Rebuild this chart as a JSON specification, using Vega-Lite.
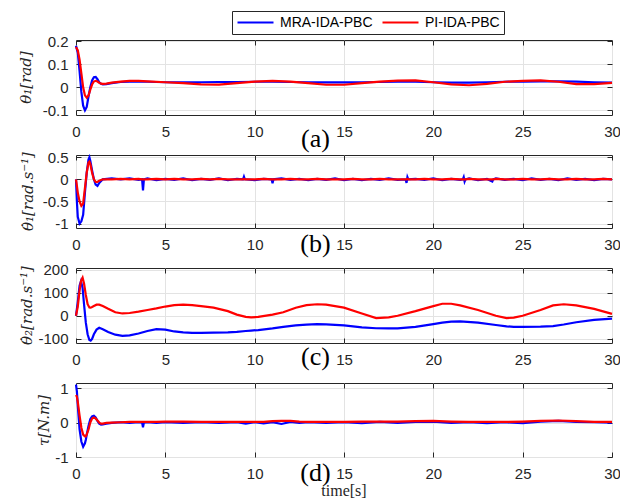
{
  "$schema": "https://vega.github.io/schema/vega-lite/v6.json",
  "autosize": {"type": "pad"},
  "padding": {"left": 17, "top": 10, "right": 5, "bottom": 5},
  "background": "white",
  "config": {
    "view": {"stroke": "#262626", "strokeWidth": 1},
    "axis": {
      "labelFont": "Liberation Sans", "labelFontSize": 15, "labelColor": "#262626",
      "gridColor": "#e3e3e3", "gridWidth": 1, "domain": false,
      "tickColor": "#262626", "tickSize": -5, "tickWidth": 1,
      "titleFont": "Liberation Serif", "titleFontWeight": "normal", "titleColor": "#262626"
    },
    "line": {"strokeWidth": 2.2}
  },
  "datasets": {
    "a": [
      {"t": 0, "MRA-IDA-PBC": 0.18, "PI-IDA-PBC": 0.175},
      {"t": 0.1, "MRA-IDA-PBC": 0.15, "PI-IDA-PBC": 0.16},
      {"t": 0.2, "MRA-IDA-PBC": 0.07, "PI-IDA-PBC": 0.12},
      {"t": 0.3, "MRA-IDA-PBC": -0.02, "PI-IDA-PBC": 0.06},
      {"t": 0.4, "MRA-IDA-PBC": -0.08, "PI-IDA-PBC": 0.0},
      {"t": 0.5, "MRA-IDA-PBC": -0.1, "PI-IDA-PBC": -0.035},
      {"t": 0.6, "MRA-IDA-PBC": -0.085, "PI-IDA-PBC": -0.045},
      {"t": 0.7, "MRA-IDA-PBC": -0.04, "PI-IDA-PBC": -0.035},
      {"t": 0.8, "MRA-IDA-PBC": 0.0, "PI-IDA-PBC": -0.01},
      {"t": 0.9, "MRA-IDA-PBC": 0.03, "PI-IDA-PBC": 0.012},
      {"t": 1.0, "MRA-IDA-PBC": 0.044, "PI-IDA-PBC": 0.025},
      {"t": 1.1, "MRA-IDA-PBC": 0.045, "PI-IDA-PBC": 0.028},
      {"t": 1.2, "MRA-IDA-PBC": 0.035, "PI-IDA-PBC": 0.025},
      {"t": 1.3, "MRA-IDA-PBC": 0.022, "PI-IDA-PBC": 0.02},
      {"t": 1.4, "MRA-IDA-PBC": 0.015, "PI-IDA-PBC": 0.016},
      {"t": 1.5, "MRA-IDA-PBC": 0.013, "PI-IDA-PBC": 0.015},
      {"t": 1.7, "MRA-IDA-PBC": 0.014, "PI-IDA-PBC": 0.016},
      {"t": 2.0, "MRA-IDA-PBC": 0.018, "PI-IDA-PBC": 0.02},
      {"t": 2.5, "MRA-IDA-PBC": 0.023, "PI-IDA-PBC": 0.025},
      {"t": 3, "MRA-IDA-PBC": 0.025, "PI-IDA-PBC": 0.028},
      {"t": 3.5, "MRA-IDA-PBC": 0.025, "PI-IDA-PBC": 0.028},
      {"t": 4, "MRA-IDA-PBC": 0.024, "PI-IDA-PBC": 0.026},
      {"t": 5, "MRA-IDA-PBC": 0.022, "PI-IDA-PBC": 0.022},
      {"t": 6, "MRA-IDA-PBC": 0.021, "PI-IDA-PBC": 0.018},
      {"t": 7, "MRA-IDA-PBC": 0.022, "PI-IDA-PBC": 0.013},
      {"t": 8, "MRA-IDA-PBC": 0.023, "PI-IDA-PBC": 0.012},
      {"t": 9, "MRA-IDA-PBC": 0.023, "PI-IDA-PBC": 0.018},
      {"t": 10, "MRA-IDA-PBC": 0.024, "PI-IDA-PBC": 0.025},
      {"t": 11, "MRA-IDA-PBC": 0.024, "PI-IDA-PBC": 0.028},
      {"t": 12, "MRA-IDA-PBC": 0.023, "PI-IDA-PBC": 0.025},
      {"t": 13, "MRA-IDA-PBC": 0.022, "PI-IDA-PBC": 0.018},
      {"t": 14, "MRA-IDA-PBC": 0.021, "PI-IDA-PBC": 0.011},
      {"t": 15, "MRA-IDA-PBC": 0.021, "PI-IDA-PBC": 0.011},
      {"t": 16, "MRA-IDA-PBC": 0.022, "PI-IDA-PBC": 0.018},
      {"t": 17, "MRA-IDA-PBC": 0.023, "PI-IDA-PBC": 0.025},
      {"t": 18, "MRA-IDA-PBC": 0.024, "PI-IDA-PBC": 0.029},
      {"t": 19, "MRA-IDA-PBC": 0.024, "PI-IDA-PBC": 0.03},
      {"t": 20, "MRA-IDA-PBC": 0.022, "PI-IDA-PBC": 0.022},
      {"t": 21, "MRA-IDA-PBC": 0.02, "PI-IDA-PBC": 0.013},
      {"t": 22, "MRA-IDA-PBC": 0.02, "PI-IDA-PBC": 0.009},
      {"t": 23, "MRA-IDA-PBC": 0.022, "PI-IDA-PBC": 0.015},
      {"t": 24, "MRA-IDA-PBC": 0.024, "PI-IDA-PBC": 0.024},
      {"t": 25, "MRA-IDA-PBC": 0.025, "PI-IDA-PBC": 0.028},
      {"t": 26, "MRA-IDA-PBC": 0.026, "PI-IDA-PBC": 0.03},
      {"t": 27, "MRA-IDA-PBC": 0.026, "PI-IDA-PBC": 0.024},
      {"t": 28, "MRA-IDA-PBC": 0.025, "PI-IDA-PBC": 0.014},
      {"t": 29, "MRA-IDA-PBC": 0.022, "PI-IDA-PBC": 0.014},
      {"t": 30, "MRA-IDA-PBC": 0.02, "PI-IDA-PBC": 0.019}
    ],
    "b": [
      {"t": 0, "MRA-IDA-PBC": 0, "PI-IDA-PBC": 0},
      {"t": 0.05, "MRA-IDA-PBC": -0.5, "PI-IDA-PBC": -0.15},
      {"t": 0.1, "MRA-IDA-PBC": -0.85, "PI-IDA-PBC": -0.3},
      {"t": 0.2, "MRA-IDA-PBC": -1.0, "PI-IDA-PBC": -0.5},
      {"t": 0.3, "MRA-IDA-PBC": -0.95, "PI-IDA-PBC": -0.6},
      {"t": 0.4, "MRA-IDA-PBC": -0.8, "PI-IDA-PBC": -0.55},
      {"t": 0.5, "MRA-IDA-PBC": -0.3, "PI-IDA-PBC": -0.2},
      {"t": 0.6, "MRA-IDA-PBC": 0.15, "PI-IDA-PBC": 0.15},
      {"t": 0.7, "MRA-IDA-PBC": 0.45, "PI-IDA-PBC": 0.38},
      {"t": 0.75, "MRA-IDA-PBC": 0.5, "PI-IDA-PBC": 0.4},
      {"t": 0.8, "MRA-IDA-PBC": 0.42, "PI-IDA-PBC": 0.35},
      {"t": 0.9, "MRA-IDA-PBC": 0.2, "PI-IDA-PBC": 0.15},
      {"t": 1.0, "MRA-IDA-PBC": 0.0, "PI-IDA-PBC": 0.0},
      {"t": 1.1, "MRA-IDA-PBC": -0.12, "PI-IDA-PBC": -0.06},
      {"t": 1.2, "MRA-IDA-PBC": -0.15, "PI-IDA-PBC": -0.06},
      {"t": 1.3, "MRA-IDA-PBC": -0.08, "PI-IDA-PBC": -0.03},
      {"t": 1.5, "MRA-IDA-PBC": 0.0, "PI-IDA-PBC": 0.0},
      {"t": 2.0, "MRA-IDA-PBC": 0.02, "PI-IDA-PBC": 0.0},
      {"t": 2.5, "MRA-IDA-PBC": 0.0, "PI-IDA-PBC": 0.01},
      {"t": 3.0, "MRA-IDA-PBC": 0.02, "PI-IDA-PBC": 0.0},
      {"t": 3.5, "MRA-IDA-PBC": -0.01, "PI-IDA-PBC": 0.01},
      {"t": 3.7, "MRA-IDA-PBC": 0.0, "PI-IDA-PBC": 0.0},
      {"t": 3.75, "MRA-IDA-PBC": -0.25, "PI-IDA-PBC": 0.0},
      {"t": 3.8, "MRA-IDA-PBC": 0.0, "PI-IDA-PBC": 0.0},
      {"t": 4.0, "MRA-IDA-PBC": 0.02, "PI-IDA-PBC": 0.0},
      {"t": 4.5, "MRA-IDA-PBC": -0.02, "PI-IDA-PBC": 0.01},
      {"t": 5.0, "MRA-IDA-PBC": 0.01, "PI-IDA-PBC": 0.0},
      {"t": 5.5, "MRA-IDA-PBC": -0.01, "PI-IDA-PBC": 0.01},
      {"t": 6.0, "MRA-IDA-PBC": 0.02, "PI-IDA-PBC": 0.0},
      {"t": 6.5, "MRA-IDA-PBC": -0.02, "PI-IDA-PBC": 0.0},
      {"t": 7.0, "MRA-IDA-PBC": 0.01, "PI-IDA-PBC": 0.01},
      {"t": 7.5, "MRA-IDA-PBC": -0.01, "PI-IDA-PBC": 0.0},
      {"t": 8.0, "MRA-IDA-PBC": 0.02, "PI-IDA-PBC": 0.01},
      {"t": 8.5, "MRA-IDA-PBC": -0.02, "PI-IDA-PBC": 0.0},
      {"t": 9.0, "MRA-IDA-PBC": 0.01, "PI-IDA-PBC": 0.0},
      {"t": 9.35, "MRA-IDA-PBC": 0.0, "PI-IDA-PBC": 0.0},
      {"t": 9.4, "MRA-IDA-PBC": 0.06, "PI-IDA-PBC": 0.01},
      {"t": 9.45, "MRA-IDA-PBC": 0.0, "PI-IDA-PBC": 0.0},
      {"t": 10.0, "MRA-IDA-PBC": -0.02, "PI-IDA-PBC": 0.0},
      {"t": 10.5, "MRA-IDA-PBC": 0.01, "PI-IDA-PBC": 0.01},
      {"t": 10.95, "MRA-IDA-PBC": 0.0, "PI-IDA-PBC": 0.0},
      {"t": 11.0, "MRA-IDA-PBC": -0.09, "PI-IDA-PBC": 0.0},
      {"t": 11.05, "MRA-IDA-PBC": 0.0, "PI-IDA-PBC": 0.0},
      {"t": 11.5, "MRA-IDA-PBC": 0.02, "PI-IDA-PBC": 0.0},
      {"t": 12.0, "MRA-IDA-PBC": -0.01, "PI-IDA-PBC": 0.01},
      {"t": 12.5, "MRA-IDA-PBC": 0.01, "PI-IDA-PBC": 0.0},
      {"t": 13.0, "MRA-IDA-PBC": -0.02, "PI-IDA-PBC": 0.0},
      {"t": 13.5, "MRA-IDA-PBC": 0.01, "PI-IDA-PBC": 0.01},
      {"t": 14.0, "MRA-IDA-PBC": -0.01, "PI-IDA-PBC": 0.0},
      {"t": 14.5, "MRA-IDA-PBC": 0.02, "PI-IDA-PBC": 0.0},
      {"t": 15.0, "MRA-IDA-PBC": -0.02, "PI-IDA-PBC": 0.0},
      {"t": 15.5, "MRA-IDA-PBC": 0.01, "PI-IDA-PBC": 0.01},
      {"t": 16.0, "MRA-IDA-PBC": -0.02, "PI-IDA-PBC": 0.0},
      {"t": 16.5, "MRA-IDA-PBC": 0.01, "PI-IDA-PBC": 0.0},
      {"t": 17.0, "MRA-IDA-PBC": -0.01, "PI-IDA-PBC": 0.01},
      {"t": 17.5, "MRA-IDA-PBC": 0.02, "PI-IDA-PBC": 0.0},
      {"t": 18.0, "MRA-IDA-PBC": -0.01, "PI-IDA-PBC": 0.0},
      {"t": 18.45, "MRA-IDA-PBC": 0.0, "PI-IDA-PBC": 0.0},
      {"t": 18.5, "MRA-IDA-PBC": -0.08, "PI-IDA-PBC": 0.0},
      {"t": 18.55, "MRA-IDA-PBC": 0.05, "PI-IDA-PBC": 0.01},
      {"t": 18.6, "MRA-IDA-PBC": 0.0, "PI-IDA-PBC": 0.0},
      {"t": 19.0, "MRA-IDA-PBC": 0.01, "PI-IDA-PBC": 0.0},
      {"t": 19.5, "MRA-IDA-PBC": -0.01, "PI-IDA-PBC": 0.01},
      {"t": 20.0, "MRA-IDA-PBC": 0.02, "PI-IDA-PBC": 0.0},
      {"t": 20.5, "MRA-IDA-PBC": -0.02, "PI-IDA-PBC": 0.0},
      {"t": 21.0, "MRA-IDA-PBC": 0.01, "PI-IDA-PBC": 0.01},
      {"t": 21.5, "MRA-IDA-PBC": -0.01, "PI-IDA-PBC": 0.0},
      {"t": 21.65, "MRA-IDA-PBC": 0.0, "PI-IDA-PBC": 0.0},
      {"t": 21.7, "MRA-IDA-PBC": 0.05, "PI-IDA-PBC": 0.0},
      {"t": 21.75, "MRA-IDA-PBC": -0.05, "PI-IDA-PBC": 0.0},
      {"t": 21.8, "MRA-IDA-PBC": 0.0, "PI-IDA-PBC": 0.0},
      {"t": 22.0, "MRA-IDA-PBC": 0.02, "PI-IDA-PBC": 0.01},
      {"t": 22.5, "MRA-IDA-PBC": -0.02, "PI-IDA-PBC": 0.0},
      {"t": 23.0, "MRA-IDA-PBC": 0.01, "PI-IDA-PBC": 0.0},
      {"t": 23.3, "MRA-IDA-PBC": -0.05, "PI-IDA-PBC": 0.0},
      {"t": 23.35, "MRA-IDA-PBC": 0.0, "PI-IDA-PBC": 0.0},
      {"t": 23.5, "MRA-IDA-PBC": 0.02, "PI-IDA-PBC": 0.01},
      {"t": 24.0, "MRA-IDA-PBC": -0.01, "PI-IDA-PBC": 0.0},
      {"t": 24.5, "MRA-IDA-PBC": 0.01, "PI-IDA-PBC": 0.0},
      {"t": 25.0, "MRA-IDA-PBC": -0.02, "PI-IDA-PBC": 0.01},
      {"t": 25.5, "MRA-IDA-PBC": 0.02, "PI-IDA-PBC": 0.0},
      {"t": 26.0, "MRA-IDA-PBC": -0.01, "PI-IDA-PBC": 0.0},
      {"t": 26.5, "MRA-IDA-PBC": 0.01, "PI-IDA-PBC": 0.01},
      {"t": 27.0, "MRA-IDA-PBC": -0.02, "PI-IDA-PBC": 0.0},
      {"t": 27.5, "MRA-IDA-PBC": 0.02, "PI-IDA-PBC": 0.0},
      {"t": 28.0, "MRA-IDA-PBC": -0.01, "PI-IDA-PBC": 0.01},
      {"t": 28.5, "MRA-IDA-PBC": 0.01, "PI-IDA-PBC": 0.0},
      {"t": 29.0, "MRA-IDA-PBC": -0.02, "PI-IDA-PBC": 0.0},
      {"t": 29.5, "MRA-IDA-PBC": 0.01, "PI-IDA-PBC": 0.01},
      {"t": 30.0, "MRA-IDA-PBC": 0.0, "PI-IDA-PBC": 0.0}
    ],
    "c": [
      {"t": 0, "MRA-IDA-PBC": 0, "PI-IDA-PBC": 0},
      {"t": 0.1, "MRA-IDA-PBC": 60, "PI-IDA-PBC": 40},
      {"t": 0.2, "MRA-IDA-PBC": 130, "PI-IDA-PBC": 110},
      {"t": 0.28, "MRA-IDA-PBC": 150, "PI-IDA-PBC": 150},
      {"t": 0.37, "MRA-IDA-PBC": 120, "PI-IDA-PBC": 165},
      {"t": 0.45, "MRA-IDA-PBC": 50, "PI-IDA-PBC": 140},
      {"t": 0.55, "MRA-IDA-PBC": -30, "PI-IDA-PBC": 90},
      {"t": 0.65, "MRA-IDA-PBC": -80, "PI-IDA-PBC": 50},
      {"t": 0.75, "MRA-IDA-PBC": -105, "PI-IDA-PBC": 36},
      {"t": 0.82, "MRA-IDA-PBC": -108, "PI-IDA-PBC": 35},
      {"t": 0.9, "MRA-IDA-PBC": -100, "PI-IDA-PBC": 38},
      {"t": 1.0, "MRA-IDA-PBC": -80, "PI-IDA-PBC": 42},
      {"t": 1.15, "MRA-IDA-PBC": -60, "PI-IDA-PBC": 48},
      {"t": 1.3, "MRA-IDA-PBC": -52, "PI-IDA-PBC": 48},
      {"t": 1.5, "MRA-IDA-PBC": -58, "PI-IDA-PBC": 42},
      {"t": 1.8, "MRA-IDA-PBC": -70, "PI-IDA-PBC": 30},
      {"t": 2.2, "MRA-IDA-PBC": -82, "PI-IDA-PBC": 15},
      {"t": 2.6, "MRA-IDA-PBC": -87, "PI-IDA-PBC": 10},
      {"t": 3.0, "MRA-IDA-PBC": -85, "PI-IDA-PBC": 12},
      {"t": 3.5, "MRA-IDA-PBC": -77, "PI-IDA-PBC": 18},
      {"t": 4.0, "MRA-IDA-PBC": -66, "PI-IDA-PBC": 25},
      {"t": 4.5, "MRA-IDA-PBC": -58, "PI-IDA-PBC": 32},
      {"t": 5.0, "MRA-IDA-PBC": -60, "PI-IDA-PBC": 40},
      {"t": 5.5, "MRA-IDA-PBC": -68, "PI-IDA-PBC": 46},
      {"t": 6.0, "MRA-IDA-PBC": -72, "PI-IDA-PBC": 48},
      {"t": 6.5, "MRA-IDA-PBC": -74, "PI-IDA-PBC": 46},
      {"t": 7.0, "MRA-IDA-PBC": -74, "PI-IDA-PBC": 42},
      {"t": 7.7, "MRA-IDA-PBC": -73, "PI-IDA-PBC": 35},
      {"t": 8.5, "MRA-IDA-PBC": -72, "PI-IDA-PBC": 20},
      {"t": 9.0, "MRA-IDA-PBC": -70, "PI-IDA-PBC": 5},
      {"t": 9.5, "MRA-IDA-PBC": -66, "PI-IDA-PBC": -5},
      {"t": 9.8, "MRA-IDA-PBC": -64, "PI-IDA-PBC": -7},
      {"t": 10.2, "MRA-IDA-PBC": -62, "PI-IDA-PBC": -5},
      {"t": 11.0, "MRA-IDA-PBC": -55, "PI-IDA-PBC": 5},
      {"t": 11.6, "MRA-IDA-PBC": -48, "PI-IDA-PBC": 15},
      {"t": 12.3, "MRA-IDA-PBC": -42, "PI-IDA-PBC": 35},
      {"t": 12.9, "MRA-IDA-PBC": -38, "PI-IDA-PBC": 46},
      {"t": 13.5, "MRA-IDA-PBC": -36, "PI-IDA-PBC": 50},
      {"t": 14.0, "MRA-IDA-PBC": -37, "PI-IDA-PBC": 48},
      {"t": 15.0, "MRA-IDA-PBC": -42, "PI-IDA-PBC": 35},
      {"t": 16.0, "MRA-IDA-PBC": -50, "PI-IDA-PBC": 10},
      {"t": 16.8, "MRA-IDA-PBC": -54, "PI-IDA-PBC": -10},
      {"t": 17.5, "MRA-IDA-PBC": -55, "PI-IDA-PBC": -7},
      {"t": 18.0, "MRA-IDA-PBC": -55, "PI-IDA-PBC": 0},
      {"t": 19.0, "MRA-IDA-PBC": -48, "PI-IDA-PBC": 20},
      {"t": 20.0, "MRA-IDA-PBC": -36, "PI-IDA-PBC": 42},
      {"t": 20.5, "MRA-IDA-PBC": -30, "PI-IDA-PBC": 52},
      {"t": 21.0, "MRA-IDA-PBC": -25, "PI-IDA-PBC": 52},
      {"t": 21.5, "MRA-IDA-PBC": -24, "PI-IDA-PBC": 45},
      {"t": 22.5, "MRA-IDA-PBC": -30, "PI-IDA-PBC": 25},
      {"t": 23.5, "MRA-IDA-PBC": -40, "PI-IDA-PBC": 0},
      {"t": 24.1, "MRA-IDA-PBC": -46, "PI-IDA-PBC": -10},
      {"t": 24.5, "MRA-IDA-PBC": -48, "PI-IDA-PBC": -8},
      {"t": 25.0, "MRA-IDA-PBC": -48, "PI-IDA-PBC": 0},
      {"t": 26.0, "MRA-IDA-PBC": -47, "PI-IDA-PBC": 25},
      {"t": 26.7, "MRA-IDA-PBC": -45, "PI-IDA-PBC": 45},
      {"t": 27.3, "MRA-IDA-PBC": -38, "PI-IDA-PBC": 50},
      {"t": 28.0, "MRA-IDA-PBC": -28, "PI-IDA-PBC": 45},
      {"t": 29.0, "MRA-IDA-PBC": -18, "PI-IDA-PBC": 30},
      {"t": 30.0, "MRA-IDA-PBC": -12, "PI-IDA-PBC": 8}
    ],
    "d": [
      {"t": 0, "MRA-IDA-PBC": 1.1, "PI-IDA-PBC": 0.8},
      {"t": 0.05, "MRA-IDA-PBC": 0.9, "PI-IDA-PBC": 0.75},
      {"t": 0.1, "MRA-IDA-PBC": 0.5, "PI-IDA-PBC": 0.6},
      {"t": 0.2, "MRA-IDA-PBC": -0.2, "PI-IDA-PBC": 0.2},
      {"t": 0.3, "MRA-IDA-PBC": -0.55, "PI-IDA-PBC": -0.15},
      {"t": 0.4, "MRA-IDA-PBC": -0.7, "PI-IDA-PBC": -0.35},
      {"t": 0.5, "MRA-IDA-PBC": -0.6, "PI-IDA-PBC": -0.4},
      {"t": 0.55, "MRA-IDA-PBC": -0.5, "PI-IDA-PBC": -0.4},
      {"t": 0.6, "MRA-IDA-PBC": -0.35, "PI-IDA-PBC": -0.35},
      {"t": 0.7, "MRA-IDA-PBC": -0.1, "PI-IDA-PBC": -0.2},
      {"t": 0.8, "MRA-IDA-PBC": 0.1, "PI-IDA-PBC": 0.0},
      {"t": 0.9, "MRA-IDA-PBC": 0.18, "PI-IDA-PBC": 0.12},
      {"t": 1.0, "MRA-IDA-PBC": 0.2, "PI-IDA-PBC": 0.15},
      {"t": 1.1, "MRA-IDA-PBC": 0.15, "PI-IDA-PBC": 0.12},
      {"t": 1.2, "MRA-IDA-PBC": 0.05, "PI-IDA-PBC": 0.06},
      {"t": 1.3, "MRA-IDA-PBC": -0.03, "PI-IDA-PBC": 0.0},
      {"t": 1.4, "MRA-IDA-PBC": -0.06, "PI-IDA-PBC": -0.03},
      {"t": 1.5, "MRA-IDA-PBC": -0.05, "PI-IDA-PBC": -0.03},
      {"t": 1.7, "MRA-IDA-PBC": -0.03, "PI-IDA-PBC": -0.01},
      {"t": 2.0, "MRA-IDA-PBC": -0.01, "PI-IDA-PBC": 0.0},
      {"t": 2.5, "MRA-IDA-PBC": 0.01, "PI-IDA-PBC": 0.01},
      {"t": 3.0, "MRA-IDA-PBC": -0.01, "PI-IDA-PBC": 0.02},
      {"t": 3.5, "MRA-IDA-PBC": 0.01, "PI-IDA-PBC": 0.02},
      {"t": 3.7, "MRA-IDA-PBC": 0.0, "PI-IDA-PBC": 0.02},
      {"t": 3.75, "MRA-IDA-PBC": -0.14, "PI-IDA-PBC": 0.02},
      {"t": 3.8, "MRA-IDA-PBC": 0.0, "PI-IDA-PBC": 0.02},
      {"t": 4.0, "MRA-IDA-PBC": 0.01, "PI-IDA-PBC": 0.02},
      {"t": 4.5, "MRA-IDA-PBC": -0.01, "PI-IDA-PBC": 0.02},
      {"t": 5.0, "MRA-IDA-PBC": 0.01, "PI-IDA-PBC": 0.03},
      {"t": 6.0, "MRA-IDA-PBC": -0.01, "PI-IDA-PBC": 0.03},
      {"t": 7.0, "MRA-IDA-PBC": 0.01, "PI-IDA-PBC": 0.02},
      {"t": 8.0, "MRA-IDA-PBC": -0.01, "PI-IDA-PBC": 0.02},
      {"t": 9.0, "MRA-IDA-PBC": 0.01, "PI-IDA-PBC": 0.02},
      {"t": 9.5, "MRA-IDA-PBC": -0.03, "PI-IDA-PBC": 0.02},
      {"t": 10.0, "MRA-IDA-PBC": 0.01, "PI-IDA-PBC": 0.02},
      {"t": 10.5, "MRA-IDA-PBC": -0.02, "PI-IDA-PBC": 0.02},
      {"t": 11.0, "MRA-IDA-PBC": 0.01, "PI-IDA-PBC": 0.04},
      {"t": 11.5, "MRA-IDA-PBC": -0.04, "PI-IDA-PBC": 0.05},
      {"t": 12.0, "MRA-IDA-PBC": 0.02, "PI-IDA-PBC": 0.05},
      {"t": 12.5, "MRA-IDA-PBC": -0.01, "PI-IDA-PBC": 0.03},
      {"t": 13.0, "MRA-IDA-PBC": 0.01, "PI-IDA-PBC": 0.02},
      {"t": 14.0, "MRA-IDA-PBC": -0.01, "PI-IDA-PBC": 0.02},
      {"t": 15.0, "MRA-IDA-PBC": 0.01, "PI-IDA-PBC": 0.02},
      {"t": 16.0, "MRA-IDA-PBC": -0.02, "PI-IDA-PBC": 0.03},
      {"t": 17.0, "MRA-IDA-PBC": 0.02, "PI-IDA-PBC": 0.03},
      {"t": 18.0, "MRA-IDA-PBC": -0.01, "PI-IDA-PBC": 0.03},
      {"t": 19.0, "MRA-IDA-PBC": 0.02, "PI-IDA-PBC": 0.04},
      {"t": 20.0, "MRA-IDA-PBC": 0.03, "PI-IDA-PBC": 0.05},
      {"t": 21.0, "MRA-IDA-PBC": -0.01, "PI-IDA-PBC": 0.03},
      {"t": 22.0, "MRA-IDA-PBC": 0.01, "PI-IDA-PBC": 0.02},
      {"t": 23.0, "MRA-IDA-PBC": -0.02, "PI-IDA-PBC": 0.02},
      {"t": 24.0, "MRA-IDA-PBC": 0.01, "PI-IDA-PBC": 0.02},
      {"t": 25.0, "MRA-IDA-PBC": -0.02, "PI-IDA-PBC": 0.03},
      {"t": 26.0, "MRA-IDA-PBC": 0.03, "PI-IDA-PBC": 0.05},
      {"t": 27.0, "MRA-IDA-PBC": 0.05, "PI-IDA-PBC": 0.06},
      {"t": 28.0, "MRA-IDA-PBC": 0.02, "PI-IDA-PBC": 0.04},
      {"t": 29.0, "MRA-IDA-PBC": 0.01, "PI-IDA-PBC": 0.02},
      {"t": 30.0, "MRA-IDA-PBC": 0.0, "PI-IDA-PBC": 0.02}
    ]
  },
  "spacing": 40,
  "bounds": "flush",
  "resolve": {"scale": {"color": "independent"}, "legend": {"color": "independent"}},
  "vconcat": [
    {
      "width": 536, "height": 75,
      "data": {"name": "a"},
      "transform": [{"fold": ["MRA-IDA-PBC", "PI-IDA-PBC"], "as": ["s", "v"]}],
      "layer": [
        {
          "mark": {"type": "line"},
          "encoding": {
            "x": {"field": "t", "type": "quantitative", "scale": {"domain": [0, 30], "nice": false},
              "axis": {"values": [0, 5, 10, 15, 20, 25, 30], "labelPadding": 14, "labelFlush": false,
                "title": "(a)", "titleFontSize": 26, "titleColor": "#000", "titleX": 239, "titleY": 31, "titleAlign": "center", "titleBaseline": "alphabetic"}},
            "y": {"field": "v", "type": "quantitative", "scale": {"domain": [-0.12, 0.205], "nice": false, "zero": false},
              "axis": {"values": [-0.1, 0, 0.1, 0.2], "labelExpr": "'' + datum.value", "labelPadding": 13, "title": "θ₁[rad]", "titleFont": "DejaVu Serif", "titleFontSize": 15, "titleFontStyle": "italic", "titleX": -51, "titleY": 37, "titleBaseline": "middle", "titleAlign": "center"}},
            "color": {"field": "s", "type": "nominal",
              "scale": {"domain": ["MRA-IDA-PBC", "PI-IDA-PBC"], "range": ["#0000ff", "#ff0000"]},
              "legend": {"orient": "none", "legendX": 156, "legendY": -29, "direction": "horizontal", "title": null,
                "strokeColor": "#262626", "fillColor": "white", "padding": 4, "symbolType": "stroke", "symbolSize": 1296,
                "symbolStrokeWidth": 2, "labelFont": "Liberation Sans", "labelFontSize": 14, "labelColor": "#000",
                "columnPadding": 8, "labelOffset": 5, "clipHeight": 15}}
          }
        },
        {
          "mark": {"type": "line", "strokeOpacity": 0},
          "encoding": {
            "x": {"field": "t", "type": "quantitative", "axis": {"orient": "top", "values": [0, 5, 10, 15, 20, 25, 30], "labels": false, "grid": false, "title": null}},
            "y": {"field": "v", "type": "quantitative", "axis": {"orient": "right", "values": [-0.1, 0, 0.1, 0.2], "labels": false, "grid": false, "title": null}}
          }
        }
      ],
      "resolve": {"axis": {"x": "independent", "y": "independent"}}
    },
    {
      "width": 536, "height": 73,
      "data": {"name": "b"},
      "transform": [{"fold": ["MRA-IDA-PBC", "PI-IDA-PBC"], "as": ["s", "v"]}],
      "layer": [
        {
          "mark": {"type": "line"},
          "encoding": {
            "x": {"field": "t", "type": "quantitative", "scale": {"domain": [0, 30], "nice": false},
              "axis": {"values": [0, 5, 10, 15, 20, 25, 30], "labelPadding": 14, "labelFlush": false,
                "title": "(b)", "titleFontSize": 26, "titleColor": "#000", "titleX": 239, "titleY": 23, "titleAlign": "center", "titleBaseline": "alphabetic"}},
            "y": {"field": "v", "type": "quantitative", "scale": {"domain": [-1.1, 0.55], "nice": false, "zero": false},
              "axis": {"values": [-1, -0.5, 0, 0.5], "labelExpr": "'' + datum.value", "labelPadding": 13, "title": "θ̇₁[rad.s⁻¹]", "titleFont": "DejaVu Serif", "titleFontSize": 15, "titleFontStyle": "italic", "titleX": -49, "titleY": 36, "titleBaseline": "middle", "titleAlign": "center"}},
            "color": {"field": "s", "type": "nominal",
              "scale": {"domain": ["MRA-IDA-PBC", "PI-IDA-PBC"], "range": ["#0000ff", "#ff0000"]}, "legend": null}
          }
        },
        {
          "mark": {"type": "line", "strokeOpacity": 0},
          "encoding": {
            "x": {"field": "t", "type": "quantitative", "axis": {"orient": "top", "values": [0, 5, 10, 15, 20, 25, 30], "labels": false, "grid": false, "title": null}},
            "y": {"field": "v", "type": "quantitative", "axis": {"orient": "right", "values": [-1, -0.5, 0, 0.5], "labels": false, "grid": false, "title": null}}
          }
        }
      ],
      "resolve": {"axis": {"x": "independent", "y": "independent"}}
    },
    {
      "width": 536, "height": 75,
      "data": {"name": "c"},
      "transform": [{"fold": ["MRA-IDA-PBC", "PI-IDA-PBC"], "as": ["s", "v"]}],
      "layer": [
        {
          "mark": {"type": "line"},
          "encoding": {
            "x": {"field": "t", "type": "quantitative", "scale": {"domain": [0, 30], "nice": false},
              "axis": {"values": [0, 5, 10, 15, 20, 25, 30], "labelPadding": 14, "labelFlush": false,
                "title": "(c)", "titleFontSize": 26, "titleColor": "#000", "titleX": 239, "titleY": 21, "titleAlign": "center", "titleBaseline": "alphabetic"}},
            "y": {"field": "v", "type": "quantitative", "scale": {"domain": [-118, 207], "nice": false, "zero": false},
              "axis": {"values": [-100, 0, 100, 200], "labelExpr": "'' + datum.value", "labelPadding": 13, "title": "θ̇₂[rad.s⁻¹]", "titleFont": "DejaVu Serif", "titleFontSize": 15, "titleFontStyle": "italic", "titleX": -50, "titleY": 37, "titleBaseline": "middle", "titleAlign": "center"}},
            "color": {"field": "s", "type": "nominal",
              "scale": {"domain": ["MRA-IDA-PBC", "PI-IDA-PBC"], "range": ["#0000ff", "#ff0000"]}, "legend": null}
          }
        },
        {
          "mark": {"type": "line", "strokeOpacity": 0},
          "encoding": {
            "x": {"field": "t", "type": "quantitative", "axis": {"orient": "top", "values": [0, 5, 10, 15, 20, 25, 30], "labels": false, "grid": false, "title": null}},
            "y": {"field": "v", "type": "quantitative", "axis": {"orient": "right", "values": [-100, 0, 100, 200], "labels": false, "grid": false, "title": null}}
          }
        }
      ],
      "resolve": {"axis": {"x": "independent", "y": "independent"}}
    },
    {
      "width": 536, "height": 74,
      "data": {"name": "d"},
      "transform": [{"fold": ["MRA-IDA-PBC", "PI-IDA-PBC"], "as": ["s", "v"]}],
      "title": {"text": "time[s]", "orient": "bottom", "anchor": "middle", "font": "Liberation Serif", "fontSize": 16, "fontWeight": "normal", "color": "#262626", "offset": -2},
      "layer": [
        {
          "mark": {"type": "line"},
          "encoding": {
            "x": {"field": "t", "type": "quantitative", "scale": {"domain": [0, 30], "nice": false},
              "axis": {"values": [0, 5, 10, 15, 20, 25, 30], "labelPadding": 14, "labelFlush": false,
                "title": "(d)", "titleFontSize": 26, "titleColor": "#000", "titleX": 239, "titleY": 23, "titleAlign": "center", "titleBaseline": "alphabetic"}},
            "y": {"field": "v", "type": "quantitative", "scale": {"domain": [-1, 1.15], "nice": false, "zero": false},
              "axis": {"values": [-1, 0, 1], "labelExpr": "'' + datum.value", "labelPadding": 13, "title": "τ[N.m]", "titleFont": "DejaVu Serif", "titleFontSize": 15, "titleFontStyle": "italic", "titleX": -33, "titleY": 37, "titleBaseline": "middle", "titleAlign": "center"}},
            "color": {"field": "s", "type": "nominal",
              "scale": {"domain": ["MRA-IDA-PBC", "PI-IDA-PBC"], "range": ["#0000ff", "#ff0000"]}, "legend": null}
          }
        },
        {
          "mark": {"type": "line", "strokeOpacity": 0},
          "encoding": {
            "x": {"field": "t", "type": "quantitative", "axis": {"orient": "top", "values": [0, 5, 10, 15, 20, 25, 30], "labels": false, "grid": false, "title": null}},
            "y": {"field": "v", "type": "quantitative", "axis": {"orient": "right", "values": [-1, 0, 1], "labels": false, "grid": false, "title": null}}
          }
        }
      ],
      "resolve": {"axis": {"x": "independent", "y": "independent"}}
    }
  ]
}
